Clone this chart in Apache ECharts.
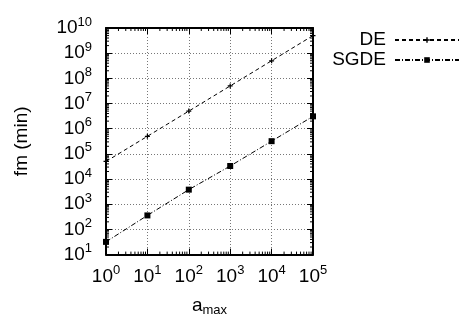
<!DOCTYPE html>
<html><head><meta charset="utf-8">
<script src="https://cdn.jsdelivr.net/npm/echarts@6/dist/echarts.min.js"></script>
<style>html,body{margin:0;padding:0;background:#fff}#c{width:460px;height:322px}</style>
</head><body><div id="c"></div>
<script>
// ---- data ----
const aMax = [1, 10, 100, 1000, 10000, 100000];
const deValues = [5e4, 5e5, 5e6, 5e7, 5e8, 5e9];
const sgdeValues = [32, 360, 3800, 33000, 3.2e5, 3.1e6];
const seriesNames = ['DE', 'SGDE'];
const xTickExponents = ['0', '1', '2', '3', '4', '5'];
const yTickExponents = ['1', '2', '3', '4', '5', '6', '7', '8', '9', '10'];
const xTitle = ['a', 'max'];
const yTitle = 'fm (min)';

const X_MIN = 1, X_MAX = 1e5, Y_MIN = 10, Y_MAX = 1e10;
const FONT = "'Liberation Sans', Arial, Helvetica, sans-serif";

// minor tick positions (2..9 x 10^k) for log axes
function minorTicks(lo, hi) {
  const out = [];
  for (let d = lo; d < hi; d *= 10) for (let m = 2; m <= 9; m++) out.push(m * d);
  return out;
}
const xMinor = minorTicks(X_MIN, X_MAX);
const yMinor = minorTicks(Y_MIN, Y_MAX);

const rich = {
  b: { fontSize: 19, fontFamily: FONT, color: '#000', lineHeight: 24 },
  sup: { fontSize: 13, fontFamily: FONT, color: '#000', lineHeight: 14, padding: [0, 0, 12, 0] }
};
function xFmt(v) { const e = Math.round(Math.log10(v)); return '{b|10}{sup|' + xTickExponents[e] + '}'; }
function yFmt(v) { const e = Math.round(Math.log10(v)); return '{b|10}{sup|' + yTickExponents[e - 1] + '}'; }

const axisLine = { show: true, lineStyle: { color: '#000', width: 2 } };
const axisTick = { show: true, inside: true, length: 6, lineStyle: { color: '#000', width: 1 } };
const splitLine = { show: true, lineStyle: { color: '#777', type: [1, 2], width: 1 } };

function minorRender(isX) {
  return function (params, api) {
    const L = 3;
    if (isX) {
      const v = api.value(0);
      const b = api.coord([v, Y_MIN]), t = api.coord([v, Y_MAX]);
      return { type: 'group', children: [
        { type: 'line', shape: { x1: b[0], y1: b[1], x2: b[0], y2: b[1] - L }, style: { stroke: '#000', lineWidth: 1 } },
        { type: 'line', shape: { x1: t[0], y1: t[1], x2: t[0], y2: t[1] + L }, style: { stroke: '#000', lineWidth: 1 } }
      ] };
    } else {
      const v = api.value(1);
      const l = api.coord([X_MIN, v]), r = api.coord([X_MAX, v]);
      return { type: 'group', children: [
        { type: 'line', shape: { x1: l[0], y1: l[1], x2: l[0] + L, y2: l[1] }, style: { stroke: '#000', lineWidth: 1 } },
        { type: 'line', shape: { x1: r[0], y1: r[1], x2: r[0] - L, y2: r[1] }, style: { stroke: '#000', lineWidth: 1 } }
      ] };
    }
  };
}

const chart = echarts.init(document.getElementById('c'), null, { renderer: 'canvas' });
chart.setOption({
  animation: false,
  backgroundColor: '#fff',
  textStyle: { fontFamily: FONT, color: '#000' },
  grid: { left: 106, right: 147, top: 28, bottom: 65, containLabel: false },
  legend: {
    data: seriesNames, orient: 'vertical', right: 0, top: 30, align: 'right', padding: 0,
    itemWidth: 64, itemHeight: 7, itemGap: 0,
    textStyle: { fontSize: 19, fontFamily: FONT, color: '#000', lineHeight: 20, padding: [0, 4, 0, 0] }
  },
  xAxis: [
    { type: 'log', logBase: 10, min: X_MIN, max: X_MAX, splitNumber: 5, position: 'bottom',
      axisLine, axisTick, splitLine,
      axisLabel: { margin: 10, formatter: xFmt, rich, showMinLabel: true, showMaxLabel: true, hideOverlap: false },
      name: '{a|' + xTitle[0] + '}{s|' + xTitle[1] + '}', nameLocation: 'middle', nameGap: 40,
      nameTextStyle: { rich: {
        a: { fontSize: 19, fontFamily: FONT, color: '#000', lineHeight: 20 },
        s: { fontSize: 13, fontFamily: FONT, color: '#000', lineHeight: 14, padding: [10, 0, 0, 0] }
      } } },
    { type: 'log', logBase: 10, min: X_MIN, max: X_MAX, splitNumber: 5, position: 'top',
      axisLine, axisTick, splitLine: { show: false }, axisLabel: { show: false } }
  ],
  yAxis: [
    { type: 'log', logBase: 10, min: Y_MIN, max: Y_MAX, splitNumber: 9, position: 'left',
      axisLine, axisTick, splitLine,
      axisLabel: { margin: 14, formatter: yFmt, rich, showMinLabel: true, showMaxLabel: true, hideOverlap: false },
      name: yTitle, nameLocation: 'middle', nameGap: 75, nameRotate: 90,
      nameTextStyle: { fontSize: 19, fontFamily: FONT, color: '#000' } },
    { type: 'log', logBase: 10, min: Y_MIN, max: Y_MAX, splitNumber: 9, position: 'right',
      axisLine, axisTick, splitLine: { show: false }, axisLabel: { show: false } }
  ],
  series: [
    { name: seriesNames[0], type: 'line', xAxisIndex: 0, yAxisIndex: 0,
      data: aMax.map((x, i) => [x, deValues[i]]),
      symbol: 'path://M-1,-4H1V-1H4V1H1V4H-1V1H-4V-1H-1Z', symbolSize: 5, showSymbol: true,
      lineStyle: { color: '#000', width: 1, type: [4, 3] },
      itemStyle: { color: '#000' }, z: 3 },
    { name: seriesNames[1], type: 'line', xAxisIndex: 0, yAxisIndex: 0,
      data: aMax.map((x, i) => [x, sgdeValues[i]]),
      symbol: 'rect', symbolSize: 6, showSymbol: true,
      lineStyle: { color: '#000', width: 1, type: [5, 2, 1, 2] },
      itemStyle: { color: '#000' }, z: 3 },
    { type: 'custom', silent: true, xAxisIndex: 0, yAxisIndex: 0, renderItem: minorRender(true),
      data: xMinor.map(v => [v, Y_MIN]), z: 4 },
    { type: 'custom', silent: true, xAxisIndex: 0, yAxisIndex: 0, renderItem: minorRender(false),
      data: yMinor.map(v => [X_MIN, v]), z: 4 }
  ]
});
</script></body></html>
